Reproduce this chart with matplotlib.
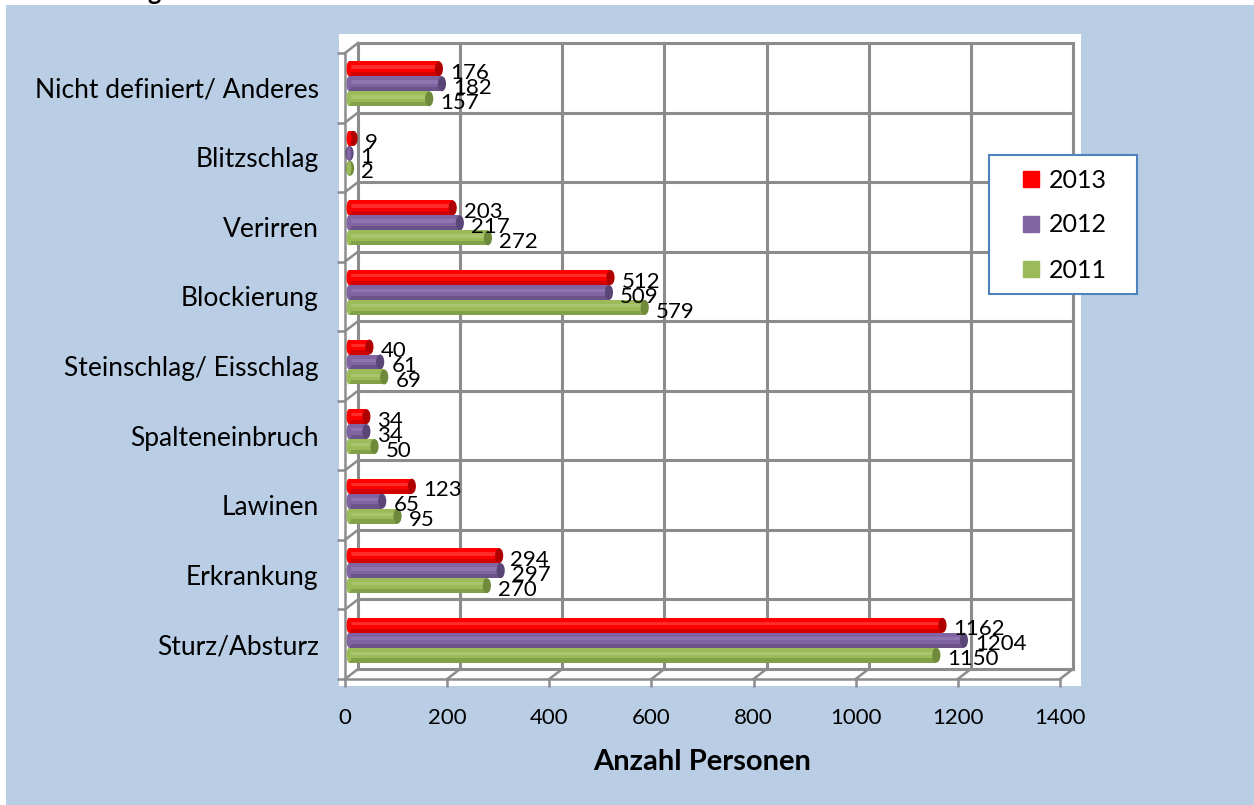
import matplotlib
matplotlib.use("Agg")
import matplotlib.pyplot as plt
import matplotlib.transforms as mtransforms
from matplotlib.patches import Rectangle, Ellipse
from matplotlib.lines import Line2D

plt.rcParams['font.family'] = ['Lato', 'DejaVu Sans']

# data (bottom to top, as in the chart)
categories = ["Sturz/Absturz", "Erkrankung", "Lawinen", "Spalteneinbruch",
              "Steinschlag/ Eisschlag", "Blockierung", "Verirren",
              "Blitzschlag", "Nicht definiert/ Anderes"]
v2013 = [1162, 294, 123, 34, 40, 512, 203, 9, 176]
v2012 = [1204, 297, 65, 34, 61, 509, 217, 1, 182]
v2011 = [1150, 270, 95, 50, 69, 579, 272, 2, 157]
years = ["2013", "2012", "2011"]
colors = ["#FF0000", "#8064A2", "#9BBB59"]
darks = ["#B00000", "#5A4577", "#6E8A3A"]
lights = ["#FF4A4A", "#9A82B8", "#B3CE7E"]
xticks = [0, 200, 400, 600, 800, 1000, 1200, 1400]

W, H = 1254, 805
fig = plt.figure(figsize=(W / 100, H / 100), dpi=100, facecolor="white")

# background panels
fig.patches.append(Rectangle((6 / W, 0), 1 - 6 / W, (H - 5) / H, transform=fig.transFigure,
                             facecolor="#B9CDE5", edgecolor="none", zorder=-10))
fig.patches.append(Rectangle((339 / W, (H - 686) / H), 742 / W, 652 / H, transform=fig.transFigure,
                             facecolor="white", edgecolor="none", zorder=-9))
# cut off title
fig.text(147 / W, 1.0, "g", fontsize=18, fontweight="bold", va="baseline", ha="left")

ax = fig.add_axes([345 / W, (H - 679) / H, 715 / W, 626 / H])
ax.set_facecolor("none")
ax.set_xlim(0, 1400)
ax.set_ylim(-0.5, len(categories) - 0.5)

grid_c = "#8C8C8C"
back = mtransforms.offset_copy(ax.transData, fig=fig, x=13, y=10, units="dots")
bar_tr = mtransforms.offset_copy(ax.transData, fig=fig, x=4, y=4, units="dots")

ny = len(categories)
# back wall grid
for x in xticks:
    ax.plot([x, x], [-0.5, ny - 0.5], color=grid_c, lw=2.2, transform=back, clip_on=False, zorder=1)
for k in range(ny + 1):
    ax.plot([0, 1400], [k - 0.5, k - 0.5], color=grid_c, lw=2.2, transform=back, clip_on=False, zorder=1)

# depth diagonals (left wall and floor)
def diag(x, y):
    p0 = ax.transData.transform((x, y))
    line = Line2D([p0[0], p0[0] + 13], [p0[1], p0[1] + 10], color=grid_c, lw=1.8,
                  transform=mtransforms.IdentityTransform(), zorder=1)
    fig.lines.append(line)

for k in range(ny + 1):
    diag(0, k - 0.5)
for x in xticks[1:]:
    diag(x, -0.5)

# front axes
for s in ["top", "right"]:
    ax.spines[s].set_visible(False)
for s in ["left", "bottom"]:
    ax.spines[s].set_color(grid_c)
    ax.spines[s].set_linewidth(1.8)

ax.set_xticks(xticks)
ax.set_xticklabels([str(t) for t in xticks], fontsize=16)
ax.set_yticks([k - 0.5 for k in range(ny + 1)])
ax.set_yticklabels([])
ax.set_yticks(range(ny), minor=True)
ax.set_yticklabels(categories, minor=True, fontsize=19)
ax.tick_params(axis="y", which="major", length=6, width=1.8, color=grid_c)
ax.tick_params(axis="y", which="minor", length=0, pad=19)
ax.tick_params(axis="x", length=6, width=1.8, color=grid_c, pad=15)
ax.set_xlabel("Anzahl Personen", fontsize=21, fontweight="bold", labelpad=15)

# cylinder-like bars
h = 0.215
offs = [0.215, 0.0, -0.215]
cap_w = 16
for si, vals in enumerate([v2013, v2012, v2011]):
    for ci, v in enumerate(vals):
        y = ci + offs[si]
        ax.barh(y, v, height=h, color=colors[si], transform=bar_tr, zorder=3 + si * 0.1)
        ax.barh(y - h * 0.36, v, height=h * 0.28, color=darks[si], alpha=0.55,
                transform=bar_tr, zorder=3 + si * 0.1, lw=0)
        ax.barh(y + h * 0.12, v, height=h * 0.22, color=lights[si], alpha=0.6,
                transform=bar_tr, zorder=3 + si * 0.1, lw=0)
        ax.add_patch(Ellipse((v, y), cap_w, h, facecolor=darks[si], edgecolor="none",
                             transform=bar_tr, zorder=3.05 + si * 0.1))
        ax.add_patch(Ellipse((0, y), cap_w * 0.6, h, facecolor=colors[si], edgecolor="none",
                             transform=bar_tr, zorder=3.05 + si * 0.1))
        ax.annotate(str(v), (v, y), xycoords=bar_tr, xytext=(8, -3), textcoords="offset points",
                    fontsize=16, va="center", ha="left", zorder=6)

# legend box + entries
fig.patches.append(Rectangle((989 / W, 1 - 294 / H), 148 / W, 139 / H, transform=fig.transFigure,
                             facecolor="white", edgecolor="#4F81BD", lw=1.5, zorder=5))
handles = [Line2D([], [], ls="none", marker="s", markersize=11.5, color=c) for c in colors]
leg = fig.legend(handles, years, loc="center", bbox_to_anchor=(1064 / W, 1 - 225 / H),
                 fontsize=18, frameon=False, handlelength=0.8, handletextpad=0.35,
                 labelspacing=0.88, borderaxespad=0)
leg.set_zorder(6)

fig.savefig("out.png", dpi=100)
